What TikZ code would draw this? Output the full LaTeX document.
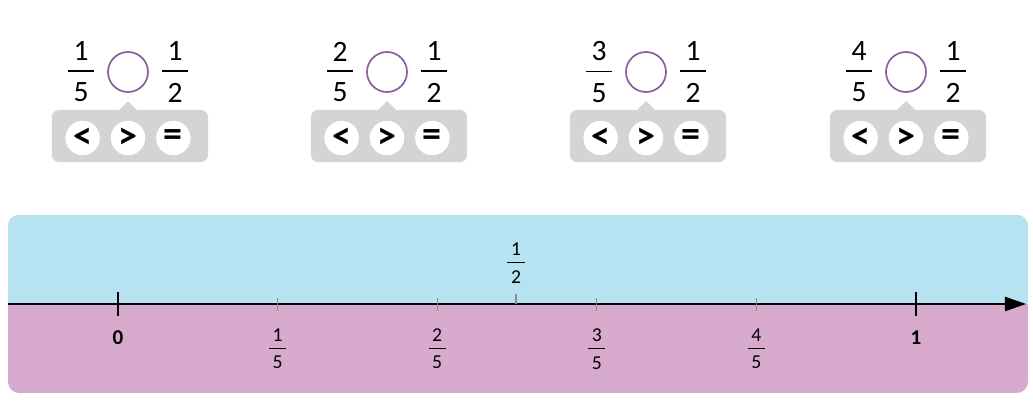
\documentclass[tikz,border=0pt]{standalone}
\usepackage{fontspec}
\setmainfont{Carlito}
\usetikzlibrary{arrows.meta,positioning}

\definecolor{bandblue}{RGB}{182,226,241}
\definecolor{bandpink}{RGB}{216,170,206}
\definecolor{boxgrey}{RGB}{212,212,212}
\definecolor{ringpurple}{RGB}{140,92,160}
\definecolor{tickgrey}{RGB}{140,140,140}

% stacked fraction with a thick bar
\newcommand{\fr}[2]{\vbox{\offinterlineskip\halign{\hfil##\hfil\cr
  #1\cr\noalign{\kern0.32em}\rule{0.88em}{0.065em}\cr\noalign{\kern0.36em}#2\cr}}}

\begin{document}
\begin{tikzpicture}[x=0.025cm, y=-0.025cm, >=Latex]

  % Styles
  \tikzset{
    bigfrac/.style={inner sep=0pt, font=\fontsize{21}{25}\selectfont},
    smallfrac/.style={inner sep=0pt, font=\fontsize{14}{17}\selectfont},
    endlabel/.style={inner sep=0pt, font=\fontsize{15}{18}\selectfont\bfseries},
    ring/.style={circle, draw=ringpurple, line width=1.2pt, minimum size=1cm, inner sep=0pt},
    panel/.style={fill=boxgrey, rounded corners=5pt, minimum width=3.9cm, minimum height=1.3cm, inner sep=0pt},
    choice/.style={circle, fill=white, minimum size=0.86cm, inner sep=0pt, font=\fontsize{27}{30}\selectfont\bfseries},
    bigtick/.style={line width=1.3pt},
    smalltick/.style={draw=tickgrey, line width=0.8pt}
  }

  \useasboundingbox (0,0) rectangle (1033,402);

  % Comparison tasks n/5 ? 1/2
  \foreach \cx/\n in {128/1,387/2,646/3,906/4}{
    \node[panel] (panel\n) at (\cx+2,136) {};
    \fill[boxgrey] (\cx-9,110) -- (\cx,101) -- (\cx+9,110) -- cycle;
    \node[ring] (ring\n) at (\cx,72) {};
    \node[bigfrac] (left\n) at (\cx-47,72) {\fr{\n}{5}};
    \node[bigfrac] (right\n) at (\cx+47,72) {\fr{1}{2}};
    \node[choice] (gt\n) at (\cx,138) {>};
    \node[choice, left=0.26cm of gt\n] (lt\n) {<};
    \node[choice, right=0.26cm of gt\n] (eq\n) {=};
  }

  % Number line band
  \begin{scope}
    \clip[rounded corners=8pt] (8,215) rectangle (1028,393);
    \fill[bandpink] (8,215) rectangle (1028,393);
    \fill[bandblue] (8,215) rectangle (1028,304);
  \end{scope}

  % Axis
  \coordinate (axisL) at (8,304);
  \coordinate (axisR) at (1026,304);
  \draw[line width=1pt, -{Triangle[length=0.53cm, width=0.36cm]}] (axisL) -- (axisR);

  % Ticks and labels
  \draw[bigtick] (118,292) -- (118,316);
  \draw[bigtick] (916,292) -- (916,316);
  \node[endlabel] (zero) at (118,338) {0};
  \node[endlabel] (one) at (916,338) {1};
  \foreach \k in {1,...,4}{
    \draw[smalltick] (118+159.6*\k,298) -- (118+159.6*\k,311);
    \node[smallfrac] (fifth\k) at (118+159.6*\k,349) {\fr{\k}{5}};
  }
  \draw[smalltick] (516,294) -- (516,304);
  \node[smallfrac] (half) at (516,263) {\fr{1}{2}};

\end{tikzpicture}
\end{document}
